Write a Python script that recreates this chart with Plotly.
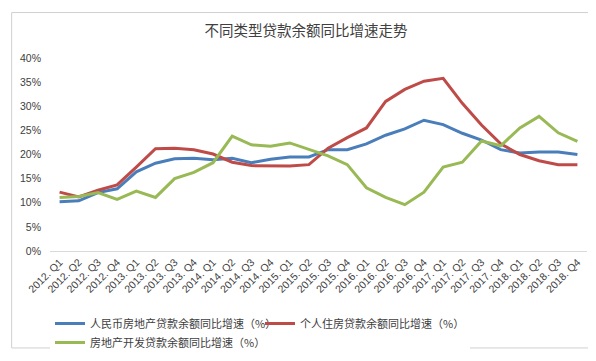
import plotly.graph_objects as go

quarters = ["2012. Q1", "2012. Q2", "2012. Q3", "2012. Q4",
            "2013. Q1", "2013. Q2", "2013. Q3", "2013. Q4",
            "2014. Q1", "2014. Q2", "2014. Q3", "2014. Q4",
            "2015. Q1", "2015. Q2", "2015. Q3", "2015. Q4",
            "2016. Q1", "2016. Q2", "2016. Q3", "2016. Q4",
            "2017. Q1", "2017. Q2", "2017. Q3", "2017. Q4",
            "2018. Q1", "2018. Q2", "2018. Q3", "2018. Q4"]

rmb_real_estate = [10.2, 10.4, 12.1, 12.9, 16.4, 18.2, 19.1, 19.2, 18.9, 19.2, 18.3, 19.0, 19.5, 19.5,
                   21.0, 21.0, 22.2, 24.0, 25.3, 27.1, 26.2, 24.4, 23.0, 21.0, 20.3, 20.5, 20.5, 20.0]
personal_housing = [12.2, 11.2, 12.6, 13.7, 17.4, 21.2, 21.3, 21.0, 20.1, 18.4, 17.7, 17.6, 17.6, 17.9,
                    21.3, 23.5, 25.5, 31.0, 33.5, 35.2, 35.8, 30.6, 26.1, 22.2, 20.0, 18.7, 17.9, 17.9]
development = [11.1, 11.3, 12.1, 10.7, 12.4, 11.1, 15.0, 16.3, 18.3, 23.8, 22.0, 21.7, 22.4, 21.0,
               19.7, 17.9, 13.1, 11.1, 9.6, 12.2, 17.4, 18.4, 22.8, 21.8, 25.5, 27.9, 24.5, 22.7]

series_names = ["人民币房地产贷款余额同比增速（%）",
                "个人住房贷款余额同比增速（%）",
                "房地产开发贷款余额同比增速（%）"]
series_values = [rmb_real_estate, personal_housing, development]
colors = ["#4A7EBB", "#BE4B48", "#98B954"]

y_ticks = [0, 5, 10, 15, 20, 25, 30, 35, 40]
y_tick_labels = ["0%", "5%", "10%", "15%", "20%", "25%", "30%", "35%", "40%"]

fig = go.Figure()
for name, vals, c in zip(series_names, series_values, colors):
    fig.add_trace(go.Scatter(x=quarters, y=vals, mode="lines", name=name,
                             line=dict(color=c, width=3)))

W, H = 596, 361
ml, mr, mt, mb = 40, 17, 50, 105
pw = W - ml - mr
ph = H - mt - mb
fig.update_layout(
    width=W, height=H,
    margin=dict(l=ml, r=mr, t=mt, b=mb, pad=0),
    paper_bgcolor="white", plot_bgcolor="white",
    font=dict(family="Noto Sans CJK SC, Liberation Sans, sans-serif", color="#595959", size=10),
    title=dict(text="不同类型贷款余额同比增速走势", x=0.5, xanchor="center",
               y=1 - 23 / H, yanchor="middle",
               font=dict(size=14.5, color="#404040", family="Noto Sans CJK SC")),
    xaxis=dict(type="category", range=[-0.5, 27.5], tickangle=-45, showgrid=False,
               showline=True, linecolor="#D9D9D9", linewidth=1, ticks="",
               tickfont=dict(size=10.5, family="Liberation Sans, Arial", color="#404040")),
    yaxis=dict(range=[0, 40], tickvals=y_ticks, ticktext=y_tick_labels, showgrid=False,
               zeroline=False, showline=False, ticks="", ticklabelstandoff=8,
               tickfont=dict(size=10.5, family="Liberation Sans, Arial", color="#404040")),
    legend=dict(orientation="h", x=(40 - ml) / pw, xanchor="left",
                y=-(330 - (H - mb) - 8) / ph + 0.02, yanchor="top",
                entrywidth=165, entrywidthmode="pixels",
                font=dict(size=11, color="#404040", family="Noto Sans CJK SC"),
                itemwidth=30, tracegroupgap=0),
    showlegend=True,
)

fig.add_shape(type="rect", xref="paper", yref="paper",
              x0=(1.5 - ml) / pw, x1=(W - 1.5 - ml) / pw,
              y0=-(mb - 1.5) / ph, y1=(H - mb - 1.5) / ph,
              line=dict(color="#D0D0D0", width=1), layer="below")

fig.write_html("out.html")
